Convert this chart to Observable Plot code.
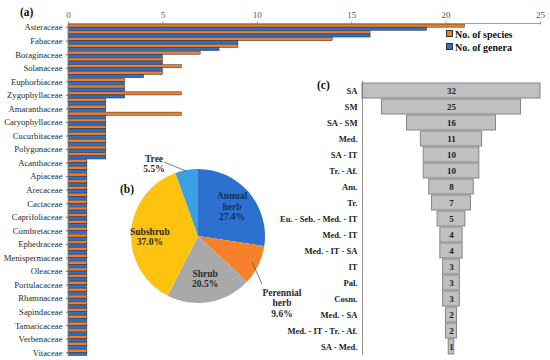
<!DOCTYPE html>
<html><head><meta charset="utf-8">
<script src="https://cdn.jsdelivr.net/npm/d3@7"></script>
<script src="https://cdn.jsdelivr.net/npm/@observablehq/plot@0.6"></script>
<style>
body{margin:0;background:#fff}
#wrap{position:relative;width:550px;height:360px;overflow:hidden;font-family:"Liberation Serif","Times New Roman",serif}
#wrap > svg{position:absolute;left:0;top:0}
#wrap svg, #wrap svg text{font-family:"Liberation Serif","Times New Roman",serif !important}
.tag{position:absolute;font-weight:bold;font-size:11.5px;color:#111;line-height:1}
.leg{position:absolute;font-weight:bold;font-size:10px;color:#111;line-height:1;white-space:nowrap}
.leg i{display:inline-block;width:5px;height:5px;border:0.8px solid #333;margin-right:2px;vertical-align:1px}
</style></head><body><div id="wrap"></div>
<script>
// ---------- (a) families: every second bar row carries a label ----------
const families = ["Asteraceae","Fabaceae","Boraginaceae","Solanaceae","Euphorbiaceae","Zygophyllaceae","Amaranthaceae","Caryophyllaceae","Cucurbitaceae","Polygonaceae","Acanthaceae","Apiaceae","Arecaceae","Cactaceae","Caprifoliaceae","Combretaceae","Ephedraceae","Menispermaceae","Oleaceae","Portulacaceae","Rhamnaceae","Sapindaceae","Tamaricaceae","Verbenaceae","Vitaceae"];
const species = [21,16,14,9,7,5,6,5,3,3,6,2,2,6,2,2,2,2,2,2,1,1,1,1,1,1,1,1,1,1,1,1,1,1,1,1,1,1,1,1,1,1,1,1,1,1,1,1,1];
const genera  = [19,16,9,8,5,5,5,4,3,3,3,2,2,2,2,2,2,2,2,2,1,1,1,1,1,1,1,1,1,1,1,1,1,1,1,1,1,1,1,1,1,1,1,1,1,1,1,1,1];
const xTicks = [0,5,10,15,20,25];
const seriesNames = ["No. of species","No. of genera"];

// ---------- (b) life forms ----------
const habit = ["Annual herb","Perennial herb","Shrub","Subshrub","Tree"];
const habitPct = [27.4, 9.6, 20.5, 37.0, 5.5];

// ---------- (c) chorotypes ----------
const chorotypes = ["SA","SM","SA - SM","Med.","SA - IT","Tr. - Af.","Am.","Tr.","Eu. - Seb. - Med. - IT","Med. - IT","Med. - IT - SA","IT","Pal.","Cosm.","Med. - SA","Med. - IT - Tr. - Af.","SA - Med."];
const choroCount = [32,25,16,11,10,10,8,7,5,4,4,3,3,3,2,2,1];

const ORANGE = "#ED7D31", BLUE = "#2D6FC9";
const FONT = "Liberation Serif, Times New Roman, serif";
const wrap = document.getElementById("wrap");

// ===== chart (a) =====
const rows = species.map((s, i) => ({row: i, species: s, genera: genera[i]}));
const rowIdx = rows.map(d => d.row);
const labelled = rowIdx.filter(i => i % 2 === 0);

const chartA = Plot.plot({
  width: 550, height: 360,
  marginLeft: 68, marginRight: 10, marginTop: 23.5, marginBottom: 4,
  style: {fontFamily: FONT, background: "transparent", overflow: "visible"},
  x: {domain: [0, 25]},
  y: {domain: rowIdx, padding: 0.08},
  marks: [
    Plot.barX(rows, {y: "row", x: "species", fill: ORANGE, stroke: "#2a2a2a", strokeWidth: 0.5, insetBottom: 3.1}),
    Plot.barX(rows, {y: "row", x: "genera", fill: BLUE, stroke: "#2a2a2a", strokeWidth: 0.5, insetTop: 3.1}),
    Plot.ruleX([0], {stroke: "#777", strokeWidth: 0.8}),
    (index, scales) => {
      const l = d3.create("svg:line")
        .attr("x1", scales.x(0)).attr("x2", scales.x(25))
        .attr("y1", 23.5).attr("y2", 23.5)
        .attr("stroke", "#8a8a8a").attr("stroke-width", 0.8);
      return l.node();
    },
    Plot.axisX({anchor: "top", ticks: xTicks, tickSize: 3, tickPadding: 3, fontSize: 9, fill: "#555", stroke: "#8a8a8a", label: null}),
    Plot.axisY({ticks: labelled, tickFormat: i => families[i / 2], tickSize: 2, tickPadding: 4, fontSize: 8.7, fill: "#2a2a2a", stroke: "#777", label: null})
  ]
});
wrap.appendChild(chartA);

// ===== chart (b) pie =====
const habitData = habit.map((h, i) => ({habit: h, pct: habitPct[i]}));
const pieColors = ["#2E70D0", "#F5822A", "#A9A9A9", "#FFC20E", "#3BA0E2"];
const chartB = Plot.plot({
  width: 550, height: 360, margin: 0,
  style: {fontFamily: FONT, background: "transparent", overflow: "visible"},
  marks: [
    () => {
      const cx = 198, cy = 236, r = 67;
      const g = d3.create("svg:g").attr("transform", `translate(${cx},${cy})`);
      const arcs = d3.pie().sort(null).value(d => d.pct)(habitData);
      const arc = d3.arc().innerRadius(0).outerRadius(r);
      g.selectAll("path").data(arcs).join("path")
        .attr("d", arc).attr("fill", (d, i) => pieColors[i]);
      const fmt = v => v.toFixed(1) + "%";
      const label = (lines, x, y, color) => {
        const t = g.append("text").attr("text-anchor", "middle")
          .attr("font-family", FONT).attr("font-weight", "bold").attr("font-size", 9.5).attr("fill", color);
        lines.forEach((s, k) => t.append("tspan").attr("x", x).attr("y", y + (k - (lines.length - 1) / 2) * 10.5 + 3).text(s));
      };
      const inside = (i, f) => d3.arc().innerRadius(r * f).outerRadius(r * f).centroid(arcs[i]);
      let p = inside(0, 0.67); label(["Annual", "herb", fmt(habitPct[0])], p[0], p[1], "#14305A");
      p = inside(3, 0.72); label(["Subshrub", fmt(habitPct[3])], p[0], p[1] + 4, "#2a2a2a");
      p = inside(2, 0.62); label(["Shrub", fmt(habitPct[2])], p[0], p[1] + 2, "#2a2a2a");
      // outside labels with leader lines
      const e1 = inside(4, 0.98);
      g.append("line").attr("x1", -34).attr("y1", -74).attr("x2", e1[0]).attr("y2", e1[1]).attr("stroke", "#444").attr("stroke-width", 0.7);
      label(["Tree", fmt(habitPct[4])], -44, -72, "#2a2a2a");
      const e2 = inside(1, 0.9);
      g.append("line").attr("x1", e2[0]).attr("y1", e2[1]).attr("x2", 64).attr("y2", 48).attr("stroke", "#444").attr("stroke-width", 0.7);
      label(["Perennial", "herb", fmt(habitPct[1])], 84, 67, "#2a2a2a");
      return g.node();
    }
  ]
});
wrap.appendChild(chartB);

// ===== chart (c) funnel =====
const choro = chorotypes.map((c, i) => ({c, n: choroCount[i]}));
const chartC = Plot.plot({
  width: 550, height: 360,
  marginLeft: 362, marginRight: 10, marginTop: 81, marginBottom: 5,
  style: {fontFamily: FONT, background: "transparent", overflow: "visible"},
  x: {domain: [-16, 16], axis: null},
  y: {domain: chorotypes, padding: 0.07},
  marks: [
    Plot.barX(choro, {y: "c", x1: d => -d.n / 2, x2: d => d.n / 2, fill: "#C0C0C0", stroke: "#858585", strokeWidth: 1}),
    Plot.text(choro, {y: "c", x: 0, text: d => String(d.n), fontWeight: "bold", fontSize: 9, fill: "#222"}),
    Plot.ruleX([-16], {stroke: "#777", strokeWidth: 0.8}),
    Plot.axisY({tickSize: 0, tickPadding: 5, fontSize: 8.6, fontWeight: "bold", fill: "#222", label: null})
  ]
});
wrap.appendChild(chartC);

// ===== panel tags and legend =====
const addDiv = (cls, html, left, top) => {
  const d = document.createElement("div");
  d.className = cls; d.innerHTML = html;
  d.style.left = left + "px"; d.style.top = top + "px";
  wrap.appendChild(d);
};
addDiv("tag", "(a)", 20, 7);
addDiv("tag", "(b)", 120, 184);
addDiv("tag", "(c)", 317, 80);
addDiv("leg", `<i style="background:${ORANGE}"></i>${seriesNames[0]}`, 446, 30);
addDiv("leg", `<i style="background:${BLUE}"></i>${seriesNames[1]}`, 446, 43);
</script></body></html>
